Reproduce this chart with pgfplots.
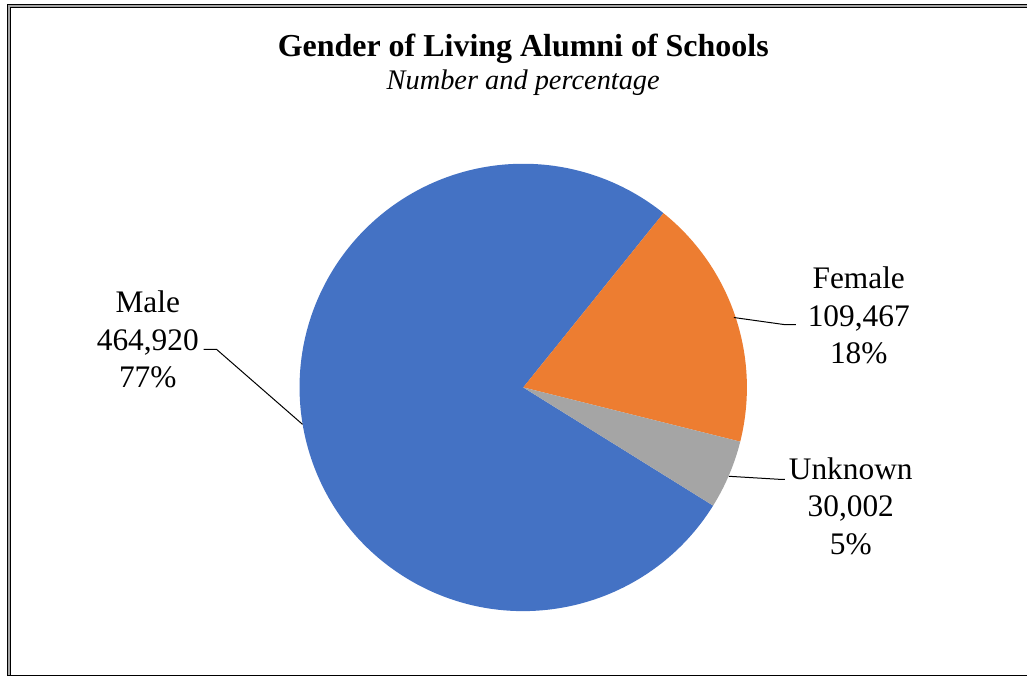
\documentclass[border=0pt]{standalone}
\usepackage{fontspec}
\setmainfont{Liberation Serif}
\usepackage{pgfplots}
\usepackage{pgfplotstable}
\pgfplotsset{compat=1.18}

\definecolor{cMale}{HTML}{4472C4}
\definecolor{cFemale}{HTML}{ED7D31}
\definecolor{cUnknown}{HTML}{A5A5A5}
\definecolor{frameGray}{HTML}{A6A6A6}

\pgfplotstableread{
name value
Male 464920
Female 109467
Unknown 30002
}\piedata

\newcommand\lblfont{\fontsize{15.7}{18.8}\selectfont}

\begin{document}
\begin{tikzpicture}
% slice values and angles (clockwise from the first slice angle)
\pgfplotstablegetelem{0}{value}\of\piedata \edef\vMale{\pgfplotsretval}
\pgfplotstablegetelem{1}{value}\of\piedata \edef\vFemale{\pgfplotsretval}
\pgfplotstablegetelem{2}{value}\of\piedata \edef\vUnknown{\pgfplotsretval}
\edef\total{\fpeval{\vMale+\vFemale+\vUnknown}}
\def\aStart{-31.9}
\edef\aMale{\fpeval{\aStart-360*\vMale/\total}}
\edef\aFemale{\fpeval{\aMale-360*\vFemale/\total}}
\edef\aUnknown{\fpeval{\aFemale-360*\vUnknown/\total}}
\edef\pMale{\fpeval{round(100*\vMale/\total)}}
\edef\pFemale{\fpeval{round(100*\vFemale/\total)}}
\edef\pUnknown{\fpeval{round(100*\vUnknown/\total)}}
\def\R{112pt}

\begin{axis}[
    hide axis,
    x=0.5pt, y=0.5pt,
    xmin=0, xmax=1028,
    ymin=0, ymax=677,
    clip=false,
  ]
  \path (axis cs:0,0) rectangle (axis cs:1028,677);

  % frame
  \draw[frameGray, line width=1.5pt] (axis cs:9,0) |- (axis cs:1028,671);
  \draw[black, line width=0.5pt] (axis cs:7.5,0) |- (axis cs:1028,672.5);
  \draw[black, line width=0.5pt] (axis cs:10.5,1.5) |- (axis cs:1028,669.5);
  \draw[black, line width=0.75pt] (axis cs:7.5,0.75) -- (axis cs:1028,0.75);

  % pie slices
  \fill[cMale] (axis cs:524,289) -- ++(\aStart:\R)
    arc[start angle=\aStart, end angle=\aMale, radius=\R] -- cycle;
  \fill[cFemale] (axis cs:524,289) -- ++(\aMale:\R)
    arc[start angle=\aMale, end angle=\aFemale, radius=\R] -- cycle;
  \fill[cUnknown] (axis cs:524,289) -- ++(\aFemale:\R)
    arc[start angle=\aFemale, end angle=\aUnknown, radius=\R] -- cycle;

  % titles
  \node[anchor=base, font=\fontsize{16}{19}\selectfont\bfseries]
    at (axis cs:524,620.3) {Gender of Living Alumni of Schools};
  \node[anchor=base, font=\fontsize{14.2}{17}\selectfont\itshape]
    at (axis cs:524,587) {Number and percentage};

  % leader lines
  \draw[black, line width=0.5pt] (axis cs:204,327) -- (axis cs:217,327) -- (axis cs:303,252);
  \draw[black, line width=0.5pt] (axis cs:735,359) -- (axis cs:785,352) -- (axis cs:797,352);
  \draw[black, line width=0.5pt] (axis cs:730,200) -- (axis cs:780,197) -- (axis cs:786,197);

  % data labels
  \node[align=center, font=\lblfont] at (axis cs:148,337)
    {Male\\464,920\\\pMale\%};
  \node[align=center, font=\lblfont] at (axis cs:860,361)
    {Female\\109,467\\\pFemale\%};
  \node[align=center, font=\lblfont] at (axis cs:852,170)
    {Unknown\\30,002\\\pUnknown\%};
\end{axis}
\end{tikzpicture}
\end{document}
